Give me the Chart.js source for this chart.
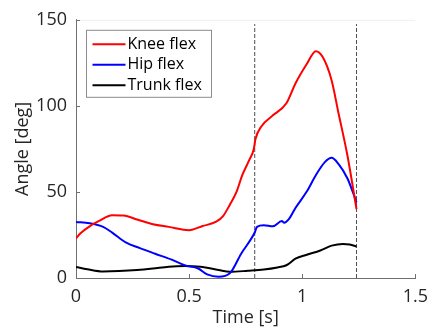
<!DOCTYPE html>
<html>
<head>
<meta charset="utf-8">
<title>Joint angles</title>
<script src="https://cdn.jsdelivr.net/npm/chart.js@4.4.1/dist/chart.umd.min.js"></script>
<style>
  html, body { margin: 0; padding: 0; background: #fff; }
  #wrap { position: relative; width: 436px; height: 334px; }
</style>
</head>
<body>
<div id="wrap"><canvas id="angleChart" width="436" height="334"></canvas></div>
<script>
// Knee flexion [deg] over time [s]
const kneeT = [0, 0.02, 0.06, 0.10, 0.16, 0.21, 0.27, 0.34, 0.41, 0.50, 0.56, 0.62, 0.65, 0.68, 0.71, 0.735, 0.765, 0.786, 0.793, 0.82, 0.865, 0.93, 0.97, 1.02, 1.06, 1.09, 1.13, 1.16, 1.20, 1.24];
const kneeV = [23, 26, 30, 33, 36.5, 36.3, 34, 31.2, 29.7, 27.8, 30.2, 32.7, 35.9, 42.6, 50.2, 59.7, 68.3, 75, 80.6, 88.2, 93.9, 101.5, 113, 124.3, 131.8, 128.5, 114.8, 96, 71, 40];

// Hip flexion
const hipT = [0, 0.06, 0.12, 0.16, 0.22, 0.28, 0.35, 0.42, 0.48, 0.54, 0.58, 0.63, 0.68, 0.73, 0.79, 0.80, 0.83, 0.87, 0.91, 0.92, 0.94, 0.97, 1.02, 1.06, 1.10, 1.13, 1.16, 1.20, 1.24];
const hipV = [32.5, 31.8, 29.7, 26.4, 20.7, 17.5, 14.1, 10.8, 7.4, 5.5, 2.1, 0.7, 2.7, 14.1, 26.4, 29.7, 30.6, 30, 33.1, 32.1, 34, 40.7, 50.2, 59.7, 67.3, 69.8, 66.3, 57.8, 44];

// Trunk flexion
const trunkT = [0, 0.05, 0.12, 0.19, 0.27, 0.34, 0.41, 0.48, 0.55, 0.63, 0.68, 0.76, 0.83, 0.89, 0.93, 0.97, 1.02, 1.08, 1.13, 1.18, 1.21, 1.24];
const trunkV = [6.4, 5.1, 3.8, 4, 4.6, 5.5, 6.6, 7, 6.5, 4.7, 3.6, 4.2, 4.9, 6.1, 7.4, 11.2, 13.5, 16, 18.8, 19.8, 19.4, 18.3];

// Event markers (dashed verticals) and their vertical extent
const eventT = [0.79, 1.24];
const eventRange = [0, 147.5];

// Axis ticks
const xTicks = [0, 0.5, 1, 1.5];
const yTicks = [0, 50, 100, 150];

const FONT = "'Open Sans', 'Noto Sans', sans-serif";
const AXIS_COLOR = "#262626";

function toPoints(ts, vs) {
  return ts.map((t, i) => ({ x: t, y: vs[i] }));
}

function curve(label, color, ts, vs) {
  return {
    label: label,
    data: toPoints(ts, vs),
    borderColor: color,
    backgroundColor: color,
    borderWidth: 2,
    pointRadius: 0,
    showLine: true,
    cubicInterpolationMode: "monotone",
  };
}

const datasets = [
  curve("Knee flex", "#ff0000", kneeT, kneeV),
  curve("Hip flex", "#0000ff", hipT, hipV),
  curve("Trunk flex", "#000000", trunkT, trunkV),
];

// dashed event lines go last so they sit under the curves
eventT.forEach((t) => {
  datasets.push({
    label: "",
    data: eventRange.map((v) => ({ x: t, y: v })),
    borderColor: "#4d4d4d",
    borderWidth: 1,
    borderDash: [4, 2],
    pointRadius: 0,
    showLine: true,
  });
});

// inward tick marks, faint top edge and a boxed legend
const axisDecor = {
  id: "axisDecor",
  afterDatasetsDraw(chart) {
    const { ctx, chartArea: a, scales } = chart;
    ctx.save();

    ctx.strokeStyle = "#f0f0f0";
    ctx.lineWidth = 1;
    ctx.beginPath();
    ctx.moveTo(a.left, a.top + 0.5);
    ctx.lineTo(a.right, a.top + 0.5);
    ctx.stroke();

    ctx.strokeStyle = "#707070";
    ctx.beginPath();
    xTicks.forEach((v) => {
      const x = Math.round(scales.x.getPixelForValue(v)) + 0.5;
      ctx.moveTo(x, a.bottom);
      ctx.lineTo(x, a.bottom - 4);
    });
    yTicks.forEach((v) => {
      const y = Math.round(scales.y.getPixelForValue(v)) + 0.5;
      ctx.moveTo(a.left, y);
      ctx.lineTo(a.left + 4, y);
    });
    ctx.stroke();

    // legend box
    const items = chart.data.datasets.filter((d) => d.label);
    const bx = a.left + 10.5, by = a.top + 10.5, bw = 125, bh = 67;
    ctx.fillStyle = "#fff";
    ctx.fillRect(bx, by, bw, bh);
    ctx.strokeStyle = "#8c8c8c";
    ctx.strokeRect(bx, by, bw, bh);
    ctx.font = "16px " + FONT;
    ctx.textBaseline = "middle";
    items.forEach((d, i) => {
      const y = by + 14 + i * 20.5;
      ctx.strokeStyle = d.borderColor;
      ctx.lineWidth = 2;
      ctx.beginPath();
      ctx.moveTo(bx + 6, y);
      ctx.lineTo(bx + 39, y);
      ctx.stroke();
      ctx.fillStyle = "#000";
      ctx.fillText(d.label, bx + 41, y);
    });
    ctx.restore();
  },
};

const ctx = document.getElementById("angleChart").getContext("2d");
new Chart(ctx, {
  type: "scatter",
  data: { datasets: datasets },
  options: {
    responsive: false,
    animation: false,
    layout: { padding: { top: 15, right: 15, left: 0, bottom: 0 } },
    plugins: {
      legend: { display: false },
      tooltip: { enabled: false },
    },
    scales: {
      x: {
        type: "linear",
        min: 0,
        max: 1.5,
        afterFit: (scale) => { scale.height = 56; },
        afterBuildTicks: (scale) => { scale.ticks = xTicks.map((v) => ({ value: v })); },
        grid: { display: false, drawTicks: false },
        border: { display: true, color: "#707070", width: 1 },
        ticks: {
          color: AXIS_COLOR,
          padding: 8,
          font: { family: FONT, size: 18 },
          callback: (v) => String(v),
        },
        title: {
          display: true,
          text: "Time [s]",
          color: AXIS_COLOR,
          font: { family: FONT, size: 18 },
          padding: { top: 0, bottom: 5 },
        },
      },
      y: {
        type: "linear",
        min: 0,
        max: 150,
        afterFit: (scale) => { scale.width = 76; },
        afterBuildTicks: (scale) => { scale.ticks = yTicks.map((v) => ({ value: v })); },
        grid: { display: false, drawTicks: false },
        border: { display: true, color: "#707070", width: 1 },
        ticks: {
          color: AXIS_COLOR,
          padding: 9,
          font: { family: FONT, size: 18 },
        },
        title: {
          display: true,
          text: "Angle [deg]",
          color: AXIS_COLOR,
          font: { family: FONT, size: 18 },
          padding: { top: 12, bottom: 0 },
        },
      },
    },
  },
  plugins: [axisDecor],
});
</script>
</body>
</html>
